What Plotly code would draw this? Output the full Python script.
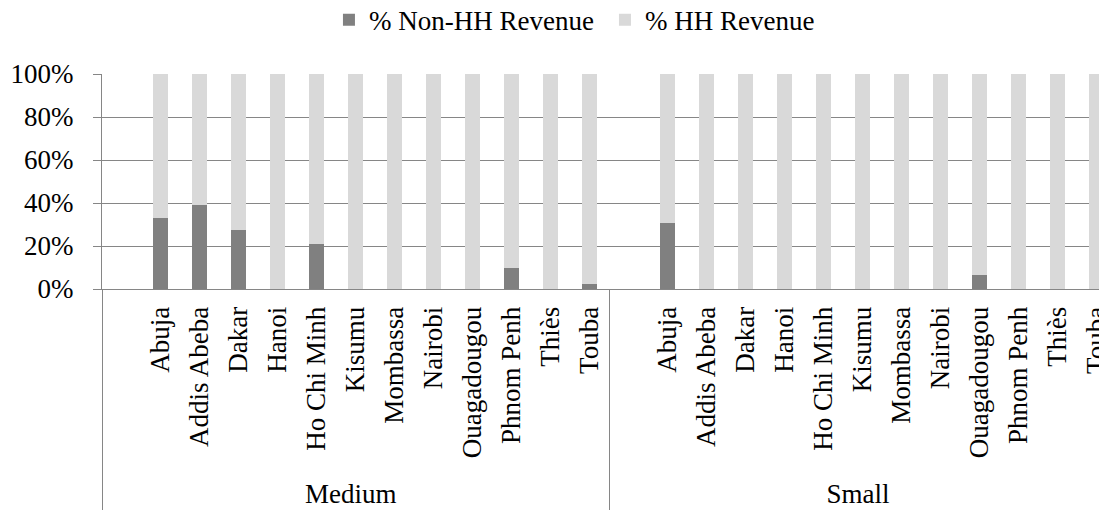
import plotly.graph_objects as go

# chart data
groups = ["Medium", "Small"]
cities = [" ", "Abuja", "Addis Abeba", "Dakar", "Hanoi", "Ho Chi Minh", "Kisumu",
          "Mombassa", "Nairobi", "Ouagadougou", "Phnom Penh", "Thiès", "Touba"]
non_hh_medium = [None, 33, 39, 27.3, 0, 21, 0, 0, 0, 0, 10, 0, 2.2]
non_hh_small = [None, 30.6, 0, 0, 0, 0, 0, 0, 0, 6.4, 0, 0, 0]
y_ticks = [0, 20, 40, 60, 80, 100]
y_labels = ["0%", "20%", "40%", "60%", "80%", "100%"]

x_outer = [g for g in groups for _ in cities]
x_inner = cities * len(groups)
non_hh = non_hh_medium + non_hh_small
hh = [None if v is None else 100 - v for v in non_hh]

FONT = "Liberation Serif"
GRID = "#868686"

fig = go.Figure()
fig.add_trace(go.Bar(x=[x_outer, x_inner], y=non_hh, name="% Non-HH Revenue",
                     marker=dict(color="#808080", line=dict(width=0))))
fig.add_trace(go.Bar(x=[x_outer, x_inner], y=hh, name="% HH Revenue",
                     marker=dict(color="#d9d9d9", line=dict(width=0))))

# page body has an 8px margin, so margins are set 8px smaller
fig.update_layout(
    barmode="stack",
    bargap=0.6,
    width=1107, height=514,
    margin=dict(l=94, r=0, t=66, b=233, autoexpand=False),
    paper_bgcolor="white", plot_bgcolor="white",
    font=dict(family=FONT, size=27, color="black"),
    showlegend=True,
    legend=dict(orientation="h", x=0.4965, xanchor="center", y=1.25, yanchor="middle",
                font=dict(family=FONT, size=27), traceorder="normal",
                entrywidth=231, entrywidthmode="pixels"),
)
fig.update_xaxes(
    type="multicategory", range=[-0.5, 25.47], automargin=False,
    tickangle=-90, showgrid=False,
    showline=True, linecolor=GRID, linewidth=1,
    ticks="", showdividers=True, dividercolor=GRID, dividerwidth=1,
    ticklabelstandoff=6,
    tickfont=dict(family=FONT, size=27),
)
fig.update_yaxes(
    range=[0, 100], tickvals=y_ticks, ticktext=y_labels, automargin=False,
    showgrid=True, gridcolor=GRID, gridwidth=1,
    showline=True, linecolor=GRID, linewidth=1,
    ticks="outside", ticklen=8, tickcolor=GRID,
    zeroline=False, ticklabelstandoff=14,
    tickfont=dict(family=FONT, size=27),
)

fig.write_html("out.html")
